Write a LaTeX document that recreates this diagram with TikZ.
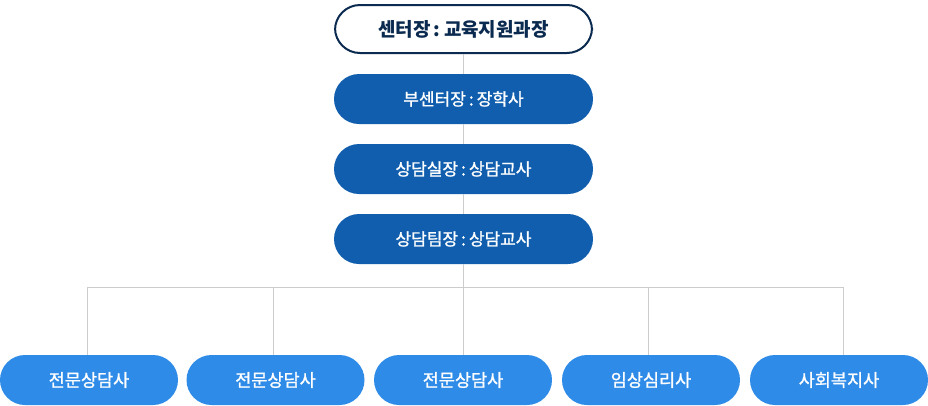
\documentclass[tikz,border=0pt]{standalone}
\usepackage{fontspec}
\setmainfont{Noto Sans CJK KR}
\newfontfamily\krfont{Noto Sans CJK KR}
\newfontfamily\krmed[FakeBold=1.2]{Noto Sans CJK KR}
\definecolor{navy}{HTML}{0B2A4F}
\definecolor{midblue}{HTML}{105EAD}
\definecolor{lightblue}{HTML}{2E8BE8}
\definecolor{linegray}{HTML}{CCCCCC}
\newcommand{\sep}{\hspace{0.18em}:\hspace{0.18em}}
\begin{document}
\begin{tikzpicture}[x=1pt,y=-1pt,
  pill/.style={rounded corners=25pt,minimum height=50pt,inner sep=0pt,anchor=center},
  topbox/.style={pill,draw=navy,line width=2pt,fill=white,minimum width=257pt,minimum height=48pt,text=navy,font=\krfont\bfseries\fontsize{19}{22}\selectfont},
  midbox/.style={pill,fill=midblue,minimum width=259pt,text=white,font=\krmed\fontsize{17}{20}\selectfont},
  lowbox/.style={pill,fill=lightblue,minimum width=178pt,text=white,font=\krmed\fontsize{17.5}{20}\selectfont},
  conn/.style={draw=linegray,line width=1pt}]
\useasboundingbox (0,0) rectangle (928,405);
\coordinate (hub) at (463,287);
\coordinate (hl) at (87,287);
\coordinate (hr) at (843,287);
\node[topbox] (t) at (463.5,29) {센터장\sep 교육지원과장};
\node[midbox] (m1) at (463.5,99) {부센터장\sep 장학사};
\node[midbox] (m2) at (463.5,169) {상담실장\sep 상담교사};
\node[midbox] (m3) at (463.5,239) {상담팀장\sep 상담교사};
\node[lowbox] (b1) at (89,380) {전문상담사};
\node[lowbox] (b2) at (275.5,380) {전문상담사};
\node[lowbox] (b3) at (463,380) {전문상담사};
\node[lowbox] (b4) at (651,380) {임상심리사};
\node[lowbox] (b5) at (839,380) {사회복지사};
\draw[conn] (t.south -| hub) -- (m1.north -| hub);
\draw[conn] (m1.south -| hub) -- (m2.north -| hub);
\draw[conn] (m2.south -| hub) -- (m3.north -| hub);
\draw[conn] (m3.south -| hub) -- (b3.north -| hub);
\draw[conn] (hl) -- (hr);
\draw[conn] (hl) -- (b1.north -| hl);
\draw[conn] (hub -| 273,0) -- (b2.north -| 273,0);
\draw[conn] (hub -| 648,0) -- (b4.north -| 648,0);
\draw[conn] (hr) -- (b5.north -| hr);
\end{tikzpicture}
\end{document}
